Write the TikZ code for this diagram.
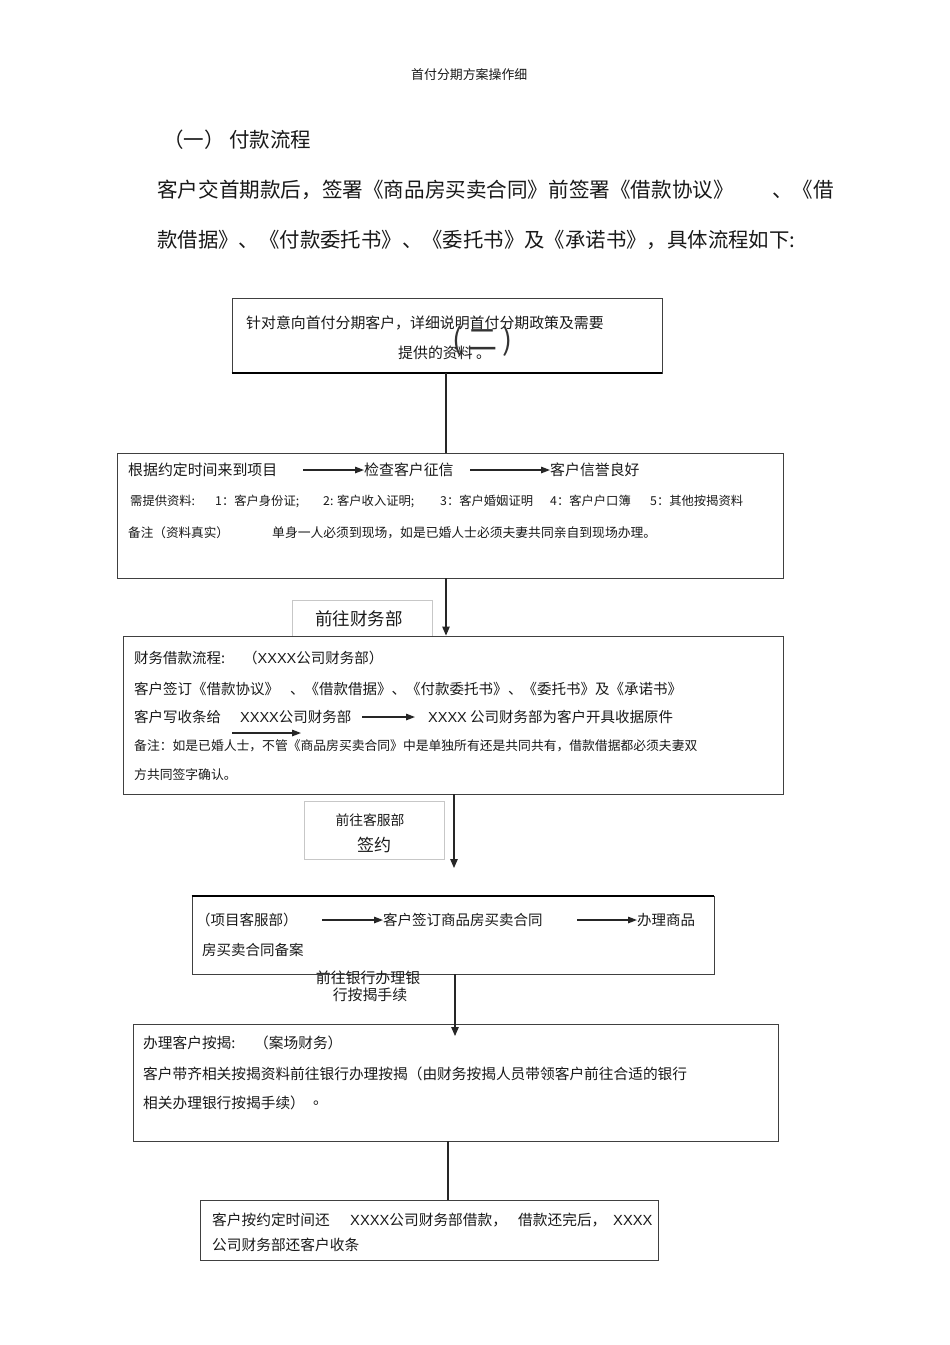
\documentclass[tikz,border=0pt]{standalone}
\usepackage{fontspec}
\setmainfont{Noto Sans CJK SC}
\newfontfamily\lat{Liberation Sans}
\usetikzlibrary{arrows.meta}
\begin{document}
\begin{tikzpicture}[x=1pt,y=-1pt,
  txt/.style={inner sep=0pt, anchor=west, text=black!90, font=\fontsize{#1}{#1}\selectfont},
  txt/.default=14.7,
  ctxt/.style={inner sep=0pt, anchor=center, text=black!90, font=\fontsize{#1}{#1}\selectfont},
  bx/.style={draw=black!75, line width=0.9pt, inner sep=0pt, fill=white},
  lbl/.style={draw=black!22, line width=0.8pt, inner sep=0pt, fill=white},
  link/.style={draw=black!85, line width=1.1pt},
  varr/.style={link, -{Triangle[length=9pt,width=7.5pt]}},
  harr/.style={draw=black!85, line width=1.3pt, -{Triangle[length=9pt,width=6.5pt]}}
]
\useasboundingbox[fill=white] (0,0) rectangle (950,1345);

% header and intro
\node[txt=12.9] (title) at (411,75) {首付分期方案操作细};
\node[txt=20.5] (h1a) at (163,140) {（一）};
\node[txt=20.5] (h1b) at (229,140) {付款流程};
\node[txt=20.6] (p1a) at (157,190) {客户交首期款后，签署《商品房买卖合同》前签署《借款协议》};
\node[txt=20.6, anchor=east] (p1b) at (834,190) {、《借};
\node[txt=20.4] (p2) at (157,240) {款借据》、《付款委托书》、《委托书》及《承诺书》，具体流程如下:};

% boxes
\node[bx, minimum width=430pt, minimum height=75pt] (b1) at (447,335.5) {};
\draw[line width=2pt, black] (b1.south west) -- (b1.south east);
\node[bx, minimum width=666pt, minimum height=125pt] (b2) at (450,515.5) {};
\node[lbl, minimum width=140pt, minimum height=36pt] (l1) at (362,618) {};
\node[bx, minimum width=660pt, minimum height=158pt] (b3) at (453,715) {};
\node[lbl, minimum width=140pt, minimum height=58pt] (l2) at (374,830) {};
\node[bx, minimum width=522pt, minimum height=78pt] (b4) at (453,935) {};
\draw[line width=2pt, black] (b4.north west) -- (b4.north east);
\node[bx, minimum width=645pt, minimum height=117pt] (b5) at (455.5,1082.5) {};
\node[bx, minimum width=458pt, minimum height=60pt] (b6) at (429,1230) {};

% connector columns
\coordinate (c1) at (446,0);
\coordinate (c3) at (454,0);
\coordinate (c4) at (455,0);
\coordinate (c5) at (448,0);
\coordinate (e3) at (454,868);
\coordinate (e4) at (455,1036);

\draw[link] (b1.south -| c1) -- (b2.north -| c1);
\draw[varr] (b2.south -| c1) -- (b3.north -| c1);
\draw[varr] (b3.south -| c3) -- (e3);
\draw[varr] (b4.south -| c4) -- (e4);
\draw[link] (b5.south -| c5) -- (b6.north -| c5);

% box 1 text
\node[txt=14.9] (t11) at (246,323) {针对意向首付分期客户，详细说明首付分期政策及需要};
\node[txt=14.9] (t12) at (398,353) {提供的资料 。};
\node[ctxt=30, text=black!80] (t13) at (483,341) {(\,二\,)};

% box 2 text
\node[txt=14.9] (t21) at (128,470) {根据约定时间来到项目};
\node[txt=14.9] (t22) at (364,470) {检查客户征信};
\node[txt=14.9] (t23) at (550,470) {客户信誉良好};
\coordinate (a21s) at (303,470);
\coordinate (a22s) at (470,470);
\draw[harr] (a21s) -- (t22.west);
\draw[harr] (a22s) -- (t23.west);
\node[txt=12.3] (t24) at (130,501) {需提供资料:};
\node[txt=12.3] (t25) at (215,501) {1：客户身份证;};
\node[txt=12.3] (t26) at (323,501) {2: 客户收入证明;};
\node[txt=12.3] (t27) at (440,501) {3：客户婚姻证明};
\node[txt=12.3] (t28) at (550,501) {4：客户户口簿};
\node[txt=12.3] (t29) at (650,501) {5：其他按揭资料};
\node[txt=12.6] (t2a) at (128,533) {备注（资料真实）};
\node[txt=12.8] (t2b) at (272,533) {单身一人必须到现场，如是已婚人士必须夫妻共同亲自到现场办理。};

% label 1
\node[ctxt=17.5] (tl1) at (359,619) {前往财务部};

% box 3 text
\node[txt=14.5] (t31) at (134,658) {财务借款流程:};
\node[txt=14.5] (t32) at (243,658) {（{\lat XXXX}公司财务部）};
\node[txt=14.5] (t33) at (134,689) {客户签订《借款协议》};
\node[txt=14.5] (t34) at (290,689) {、《借款借据》、《付款委托书》};
\node[txt=14.5] (t35) at (508,689) {、《委托书》及《承诺书》};
\node[txt=14.5] (t36) at (134,717) {客户写收条给};
\node[txt=14.5] (t37) at (240,717) {{\lat XXXX}公司财务部};
\node[txt=14.5] (t38) at (428,717) {{\lat XXXX} 公司财务部为客户开具收据原件};
\coordinate (a31s) at (362,717);
\coordinate (a31e) at (415,717);
\draw[harr] (a31s) -- (a31e);
\coordinate (a32s) at (232,733);
\coordinate (a32e) at (301,733);
\draw[harr] (a32s) -- (a32e);
\node[txt=12.8] (t39) at (134,746) {备注：如是已婚人士，不管《商品房买卖合同》中是单独所有还是共同共有，借款借据都必须夫妻双};
\node[txt=12.8] (t3a) at (134,775) {方共同签字确认。};

% label 2
\node[ctxt=13.8] (tl2a) at (370,820) {前往客服部};
\node[ctxt=17] (tl2b) at (374,845) {签约};

% box 4 text
\node[txt=14.5] (t41) at (196,920) {（项目客服部）};
\node[txt=14.5] (t42) at (383,920) {客户签订商品房买卖合同};
\node[txt=14.5] (t43) at (637,920) {办理商品};
\coordinate (a41s) at (322,920);
\coordinate (a42s) at (577,920);
\draw[harr] (a41s) -- (t42.west);
\draw[harr] (a42s) -- (t43.west);
\node[txt=14.5] (t44) at (202,950) {房买卖合同备案};

% bank label
\node[ctxt=14.9] (tb1) at (368,978) {前往银行办理银};
\node[ctxt=14.9] (tb2) at (370,995) {行按揭手续};

% box 5 text
\node[txt=14.7] (t51) at (143,1043) {办理客户按揭:};
\node[txt=14.7] (t52) at (254,1043) {（案场财务）};
\node[txt=14.7] (t53) at (143,1074) {客户带齐相关按揭资料前往银行办理按揭（由财务按揭人员带领客户前往合适的银行};
\node[txt=14.7] (t54) at (143,1103) {相关办理银行按揭手续）};
\node[txt=14.7] (t55) at (313,1103) {。};

% box 6 text
\node[txt=14.7] (t61) at (212,1220) {客户按约定时间还};
\node[txt=14.7] (t62) at (350,1220) {{\lat XXXX}公司财务部借款，};
\node[txt=14.7] (t63) at (518,1220) {借款还完后，};
\node[txt=14.7] (t64) at (613,1220) {{\lat XXXX}};
\node[txt=14.7] (t65) at (212,1245) {公司财务部还客户收条};
\end{tikzpicture}
\end{document}
